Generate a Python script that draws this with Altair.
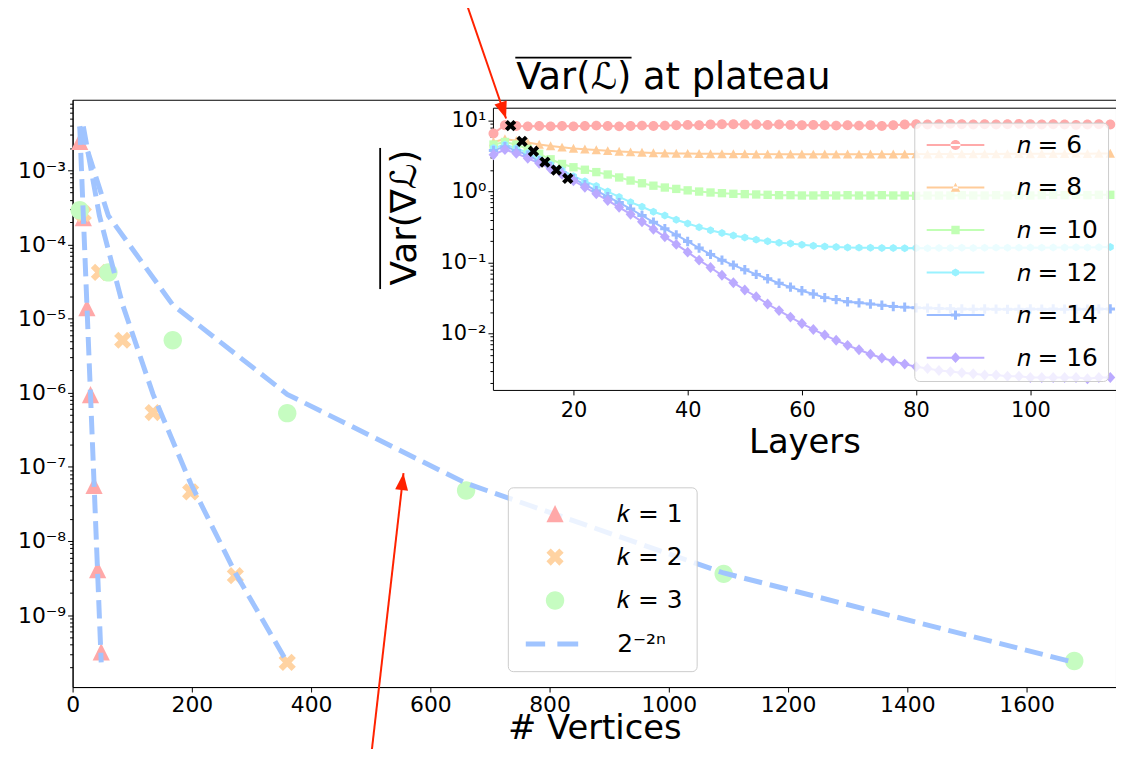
import math
import altair as alt
import pandas as pd

FONT = "DejaVu Sans"

# ---------------- main panel data ----------------
K_NAMES = ["𝑘 = 1", "𝑘 = 2", "𝑘 = 3"]
BOUND_NAME = "2⁻²ⁿ"
K_COLORS = ["#ffa8a8", "#ffd3a2", "#c6fcc1"]
BOUND_COLOR = "#a0c4ff"

VERT_K1 = [12, 18, 24, 30, 36, 42, 48]
VERT_K2 = [18, 45, 84, 135, 198, 273, 360]
VERT_K3 = [12, 60, 168, 360, 660, 1092, 1680]
VAR_K1 = [2.45e-3, 2.3e-4, 1.4e-5, 9.4e-7, 5.6e-8, 4.1e-9, 3.2e-10]
VAR_K2 = [2.6e-4, 4.2e-5, 5.1e-6, 5.4e-7, 4.6e-8, 3.4e-9, 2.3e-10]
VAR_K3 = [2.9e-4, 4.2e-5, 5.1e-6, 5.3e-7, 4.8e-8, 3.6e-9, 2.4e-10]
BOUND = [3.9e-3, 2.44e-4, 1.53e-5, 9.5e-7, 6.0e-8, 3.7e-9, 2.3e-10]

MAIN_X_TICKS = [0, 200, 400, 600, 800, 1000, 1200, 1400, 1600]
MAIN_Y_TICKS = [1e-9, 1e-8, 1e-7, 1e-6, 1e-5, 1e-4, 1e-3]
MAIN_Y_LABELS = ["10⁻⁹", "10⁻⁸", "10⁻⁷", "10⁻⁶", "10⁻⁵", "10⁻⁴", "10⁻³"]

# ---------------- inset data ----------------
N_NAMES = ["𝑛 = 6", "𝑛 = 8", "𝑛 = 10", "𝑛 = 12", "𝑛 = 14", "𝑛 = 16"]
N_COLORS = ["#ffaaaa", "#ffcc99", "#c1ffb4", "#99f2ff", "#99bbff", "#bbaaff"]

LAYERS = [6, 8, 10, 12, 14, 16, 18, 20, 22, 24,
          26, 28, 30, 32, 34, 36, 38, 40, 42, 44,
          46, 48, 50, 52, 54, 56, 58, 60, 62, 64,
          66, 68, 70, 72, 74, 76, 78, 80, 82, 84,
          86, 88, 90, 92, 94, 96, 98, 100, 102, 104,
          106, 108, 110, 112, 114]

VAL_N6 = [6.6, 8.6, 8.4, 8.3, 8.4, 8.3, 8.4, 8.3, 8.4, 8.5,
          8.4, 8.3, 8.4, 8.5, 8.4, 8.5, 8.6, 8.7, 8.6, 8.8,
          8.9, 8.9, 8.8, 8.8, 8.7, 8.8, 8.7, 8.6, 8.7, 8.6,
          8.5, 8.6, 8.5, 8.6, 8.4, 8.6, 8.8, 8.9, 8.8, 8.9,
          9.0, 8.9, 8.8, 8.9, 8.8, 8.9, 9.0, 8.9, 8.8, 8.9,
          8.8, 8.7, 8.8, 8.9, 8.8]
VAL_N8 = [5.0, 5.5, 5.2, 4.9, 4.6, 4.4, 4.2, 4.05, 3.95, 3.85,
          3.75, 3.68, 3.6, 3.55, 3.5, 3.48, 3.45, 3.43, 3.42, 3.4,
          3.4, 3.38, 3.38, 3.37, 3.37, 3.36, 3.36, 3.36, 3.35, 3.36,
          3.35, 3.36, 3.35, 3.36, 3.37, 3.36, 3.37, 3.38, 3.37, 3.38,
          3.38, 3.39, 3.38, 3.4, 3.39, 3.4, 3.41, 3.4, 3.42, 3.41,
          3.42, 3.43, 3.42, 3.44, 3.45]
VAL_N10 = [4.6, 5.0, 4.6, 4.0, 3.4, 2.85, 2.45, 2.2, 2.03, 1.88,
           1.74, 1.58, 1.43, 1.31, 1.21, 1.14, 1.09, 1.04, 1.0, 0.97,
           0.95, 0.93, 0.92, 0.91, 0.9, 0.89, 0.89, 0.88, 0.88, 0.89,
           0.88, 0.89, 0.88, 0.88, 0.89, 0.88, 0.88, 0.87, 0.88, 0.88,
           0.88, 0.89, 0.88, 0.88, 0.89, 0.88, 0.89, 0.88, 0.89, 0.9,
           0.89, 0.9, 0.89, 0.9, 0.9]
VAL_N12 = [4.1, 4.6, 4.1, 3.5, 2.9, 2.4, 2.0, 1.65, 1.4, 1.2,
           1.0, 0.84, 0.71, 0.61, 0.52, 0.46, 0.4, 0.355, 0.315, 0.285,
           0.26, 0.24, 0.225, 0.21, 0.2, 0.19, 0.185, 0.178, 0.172, 0.168,
           0.165, 0.163, 0.162, 0.161, 0.16, 0.16, 0.159, 0.16, 0.159, 0.16,
           0.16, 0.161, 0.16, 0.161, 0.162, 0.161, 0.162, 0.163, 0.162, 0.163,
           0.163, 0.164, 0.163, 0.164, 0.165]
VAL_N14 = [3.8, 4.3, 3.8, 3.25, 2.7, 2.25, 1.85, 1.52, 1.25, 1.03,
           0.85, 0.7, 0.57, 0.46, 0.37, 0.3, 0.245, 0.198, 0.16, 0.13,
           0.108, 0.092, 0.079, 0.068, 0.059, 0.051, 0.045, 0.04, 0.036, 0.032,
           0.03, 0.028, 0.027, 0.026, 0.025, 0.024, 0.0235, 0.023, 0.0228, 0.0225,
           0.0223, 0.0222, 0.022, 0.0221, 0.022, 0.0219, 0.022, 0.0221, 0.022, 0.0221,
           0.022, 0.0221, 0.022, 0.0221, 0.0222]
VAL_N16 = [3.3, 3.9, 3.45, 2.95, 2.5, 2.1, 1.75, 1.42, 1.15, 0.93,
           0.75, 0.6, 0.48, 0.375, 0.295, 0.23, 0.18, 0.14, 0.108, 0.085,
           0.066, 0.052, 0.041, 0.033, 0.026, 0.021, 0.017, 0.0138, 0.0114, 0.0095,
           0.008, 0.0068, 0.0059, 0.0051, 0.0045, 0.0041, 0.0037, 0.0034, 0.0032, 0.003,
           0.0029, 0.0028, 0.0027, 0.0026, 0.0026, 0.0025, 0.0025, 0.0024, 0.0024, 0.0024,
           0.0024, 0.0024, 0.0023, 0.0024, 0.0024]

PLATEAU_LAYER = [9, 11, 13, 15, 17, 19]
PLATEAU_VAL = [8.5, 5.1, 3.7, 2.6, 2.0, 1.53]

IN_X_TICKS = [20, 40, 60, 80, 100]
IN_Y_TICKS = [1e-2, 1e-1, 1, 10]
IN_Y_LABELS = ["10⁻²", "10⁻¹", "10⁰", "10¹"]

# annotation arrows (main-panel data coordinates)
ARROW_X0 = [660, 501]
ARROW_Y0 = [0.184, 1.31e-11]
ARROW_X1 = [727, 555]
ARROW_Y1 = [5.0e-3, 8.2e-8]
ARROW_ANGLE = [161.1, 6.5]
ARROW_COLOR = "#ff2200"

TITLE_INSET = "Var(\u2112) at plateau"
TITLE_INSET_Y = "Var(\u2207\u2112)"

# ---------------- helpers ----------------
def label_expr(ticks, labels):
    e0 = round(math.log10(ticks[0]))
    arr = "[" + ",".join("'" + s + "'" for s in labels) + "]"
    return f"{arr}[round(log(datum.value)/LN10) - ({e0})]"


def minor_ticks(lo, hi):
    out = []
    for e in range(math.floor(math.log10(lo)), math.ceil(math.log10(hi)) + 1):
        for m in range(2, 10):
            v = m * 10.0 ** e
            if lo <= v <= hi:
                out.append(v)
    return out


# shapes (custom SVG paths, unit box [-1, 1])
TRI = "M0,-1L-1,1L1,1Z"
XSHAPE = "M-0.5,-1L0,-0.5L0.5,-1L1,-0.5L0.5,0L1,0.5L0.5,1L0,0.5L-0.5,1L-1,0.5L-0.5,0L-1,-0.5Z"
CIRC = "M-1.07,0A1.07,1.07,0,1,0,1.07,0A1.07,1.07,0,1,0,-1.07,0Z"
DASH = "M-3.4,-0.29H-1.15V0.29H-3.4ZM0.27,-0.29H2.69V0.29H0.27Z"
N_MARKERS = [
    "M-0.5,0A0.5,0.5,0,1,0,0.5,0A0.5,0.5,0,1,0,-0.5,0Z",
    "M0,-0.47L-0.47,0.43L0.47,0.43Z",
    "M-0.42,-0.42H0.42V0.42H-0.42Z",
    "M0,-0.4L0.35,-0.2L0.35,0.2L0,0.4L-0.35,0.2L-0.35,-0.2Z",
    "M-0.15,-0.47H0.15V-0.15H0.47V0.15H0.15V0.47H-0.15V0.15H-0.47V-0.15H-0.15Z",
    "M0,-0.55L0.5,0L0,0.55L-0.5,0Z",
]
LINE_BAR = "M-2.9,-0.1H2.9V0.1H-2.9Z"
N_LEGEND_SHAPES = [LINE_BAR + m for m in N_MARKERS]
HEAD = "M0,0L-0.65,1.7L0.65,1.7Z"

# ---------------- tables ----------------
k_col = [K_NAMES[0]] * len(VERT_K1) + [K_NAMES[1]] * len(VERT_K2) + [K_NAMES[2]] * len(VERT_K3)
main_pts = pd.DataFrame({"vert": VERT_K1 + VERT_K2 + VERT_K3, "var": VAR_K1 + VAR_K2 + VAR_K3, "k": k_col})
main_bound = pd.DataFrame({"vert": VERT_K1 + VERT_K2 + VERT_K3, "var": BOUND * 3, "k": k_col})
series = [VAL_N6, VAL_N8, VAL_N10, VAL_N12, VAL_N14, VAL_N16]
rows = []
for name, vals in zip(N_NAMES, series):
    for L, v in zip(LAYERS, vals):
        rows.append({"layer": L, "val": v, "n": name})
inset = pd.DataFrame(rows)
plateau = pd.DataFrame({"layer": PLATEAU_LAYER, "val": PLATEAU_VAL})
arrows = pd.DataFrame({"x0": ARROW_X0, "y0": ARROW_Y0, "x1": ARROW_X1, "y1": ARROW_Y1, "ang": ARROW_ANGLE})

# ---------------- scales ----------------
W, H = 1050, 591
main_x = alt.Scale(domain=[0, 1750], nice=False, zero=False)
main_y = alt.Scale(type="log", domain=[1.07e-10, 8.95e-3], nice=False)
in_x = alt.Scale(domain=[5.9, 115], range=[423, 1050], nice=False, zero=False)
in_y = alt.Scale(type="log", domain=[1.6e-3, 15.2], range=[292, 8], nice=False)
# spans used only for the overline decorations of the two math titles
over_x = alt.Scale(domain=[0, 1], range=[445, 562], nice=False, zero=False)
over_y = alt.Scale(domain=[0, 1], range=[190, 48], nice=False, zero=False)

k_domain = K_NAMES + [BOUND_NAME]
k_fill = alt.Scale(domain=k_domain, range=K_COLORS + [BOUND_COLOR])
k_shape = alt.Scale(domain=k_domain, range=[TRI, XSHAPE, CIRC, DASH])
n_color = alt.Scale(domain=N_NAMES, range=N_COLORS)
n_shape = alt.Scale(domain=N_NAMES, range=N_MARKERS)
n_legend_shape = alt.Scale(domain=N_NAMES, range=N_LEGEND_SHAPES)

common_axis = dict(grid=False, domainColor="black", tickColor="black", labelColor="black",
                   titleColor="black", labelFont=FONT, titleFont=FONT, titleFontWeight="normal",
                   labelFlush=False, labelOverlap=False)

main_x_axis = alt.Axis(orient="bottom", values=MAIN_X_TICKS, format="d", title="# Vertices", titleFontSize=34,
                       titleY=52, titleBaseline="alphabetic", labelFontSize=22, tickSize=5,
                       labelPadding=3, **common_axis)
main_y_axis = alt.Axis(orient="left", values=MAIN_Y_TICKS, labelExpr=label_expr(MAIN_Y_TICKS, MAIN_Y_LABELS),
                       title=None, labelFontSize=22, tickSize=5, labelPadding=2, **common_axis)
main_y_minor = alt.Axis(orient="left", values=minor_ticks(1.07e-10, 8.95e-3), labels=False, domain=False,
                        title=None, tickSize=3, grid=False, tickColor="black")

in_x_axis = alt.Axis(orient="bottom", offset=-299, values=IN_X_TICKS, title="Layers", titleFontSize=34,
                     titleY=63, titleBaseline="alphabetic", labelFontSize=21, tickSize=5,
                     labelPadding=5, **common_axis)
in_y_axis = alt.Axis(orient="left", offset=-423, values=IN_Y_TICKS, labelExpr=label_expr(IN_Y_TICKS, IN_Y_LABELS),
                     title=TITLE_INSET_Y, titleFontSize=36, titleX=-78, titleY=118,
                     titleBaseline="alphabetic", titleAlign="center",
                     labelFontSize=21, tickSize=5, labelPadding=2, **common_axis)
in_y_minor = alt.Axis(orient="left", offset=-423, values=minor_ticks(1.6e-3, 15.2), labels=False,
                      domain=False, title=None, tickSize=3, grid=False, tickColor="black")
in_top = alt.Axis(orient="top", offset=-8, ticks=False, labels=False, domain=True, domainColor="black",
                  grid=False, title=TITLE_INSET, titleFontSize=37, titleFont=FONT, titleFontWeight="normal",
                  titleColor="black", titleX=446, titleY=-19, titleAlign="left", titleBaseline="alphabetic")
over_top = alt.Axis(orient="top", offset=43, ticks=False, labels=False, domain=True, domainColor="black",
                    domainWidth=1.8, grid=False, title=None)
over_left = alt.Axis(orient="left", offset=-309, ticks=False, labels=False, domain=True, domainColor="black",
                     domainWidth=1.8, grid=False, title=None)

main_legend = alt.Legend(
    title=None, orient="none", legendX=438, legendY=390, padding=14, rowPadding=17.7,
    symbolOffset=21, labelOffset=50, labelFontSize=25, labelFont=FONT, labelColor="black",
    symbolSize=300, symbolStrokeWidth=0, symbolOpacity=1,
    fillColor="rgba(255,255,255,0.8)", strokeColor="#cccccc", cornerRadius=5,
)
inset_legend = alt.Legend(
    title=None, orient="none", legendX=847, legendY=23, padding=10, rowPadding=16.8,
    symbolOffset=19, labelOffset=49, labelFontSize=25, labelFont=FONT, labelColor="black",
    symbolSize=400, symbolStrokeWidth=0, symbolOpacity=1,
    fillColor="rgba(255,255,255,0.8)", strokeColor="#cccccc", cornerRadius=5,
)

# ---------------- layers ----------------
A = alt.Chart(main_pts).mark_point(filled=True, size=300, opacity=1, strokeWidth=0).encode(
    x=alt.X("vert:Q", scale=main_x, axis=main_x_axis),
    y=alt.Y("var:Q", scale=main_y, axis=main_y_axis),
    fill=alt.Fill("k:N", scale=k_fill, legend=main_legend),
    shape=alt.Shape("k:N", scale=k_shape, legend=main_legend),
)
B = alt.Chart(main_bound).mark_line(strokeWidth=5, strokeDash=[18.5, 8], color=BOUND_COLOR).encode(
    x=alt.X("vert:Q", scale=main_x, axis=None),
    y=alt.Y("var:Q", scale=main_y, axis=main_y_minor),
    detail="k:N",
)
C = alt.Chart(inset).mark_line(strokeWidth=2).encode(
    x=alt.X("layer:Q", scale=in_x, axis=in_x_axis),
    y=alt.Y("val:Q", scale=in_y, axis=in_y_axis),
    color=alt.Color("n:N", scale=n_color, legend=None),
)
D = alt.Chart(inset).mark_point(filled=True, size=400, opacity=1, strokeWidth=0).encode(
    x=alt.X("layer:Q", scale=in_x, axis=in_top),
    y=alt.Y("val:Q", scale=in_y, axis=in_y_minor),
    fill=alt.Fill("n:N", scale=n_color, legend=None),
    shape=alt.Shape("n:N", scale=n_shape, legend=None),
)
# legend-only layer (no marks drawn)
G = alt.Chart(inset).transform_filter("false").mark_point(filled=True, size=400, opacity=1).encode(
    x=alt.X("layer:Q", scale=in_x, axis=None),
    y=alt.Y("val:Q", scale=in_y, axis=None),
    fill=alt.Fill("n:N", scale=n_color, legend=inset_legend),
    shape=alt.Shape("n:N", scale=n_legend_shape, legend=inset_legend),
)
# overline decorations for the math titles (axis domain lines only)
O = alt.Chart(plateau).transform_filter("false").mark_point().encode(
    x=alt.X("layer:Q", scale=over_x, axis=over_top),
    y=alt.Y("val:Q", scale=over_y, axis=over_left),
)
E = alt.Chart(plateau).mark_point(filled=True, shape=XSHAPE, size=130, color="black", opacity=1,
                                  strokeWidth=0).encode(
    x=alt.X("layer:Q", scale=in_x, axis=None),
    y=alt.Y("val:Q", scale=in_y, axis=None),
)
F1 = alt.Chart(arrows).mark_rule(color=ARROW_COLOR, strokeWidth=2, clip=False).encode(
    x=alt.X("x0:Q", scale=main_x, axis=None),
    y=alt.Y("y0:Q", scale=main_y, axis=None),
    x2="x1:Q",
    y2="y1:Q",
)
F2 = alt.Chart(arrows).mark_point(filled=True, shape=HEAD, size=400, color=ARROW_COLOR, opacity=1,
                                  strokeWidth=0, clip=False).encode(
    x=alt.X("x1:Q", scale=main_x, axis=None),
    y=alt.Y("y1:Q", scale=main_y, axis=None),
    angle=alt.Angle("ang:Q", scale=None),
)

chart = alt.layer(A, B, C, D, E, G, O, F1, F2).resolve_scale(
    x="independent", y="independent", color="independent", fill="independent",
    shape="independent",
).resolve_axis(x="independent", y="independent").resolve_legend(
    color="independent", fill="independent", shape="independent",
).properties(
    width=W, height=H,
    padding={"left": 65, "top": 90, "right": 0, "bottom": 60},
    autosize=alt.AutoSizeParams(type="none"),
).configure(font=FONT).configure_view(stroke="black", strokeWidth=1).configure_axis(grid=False)

chart.save("out.html", embed_options={"renderer": "svg", "actions": False})
